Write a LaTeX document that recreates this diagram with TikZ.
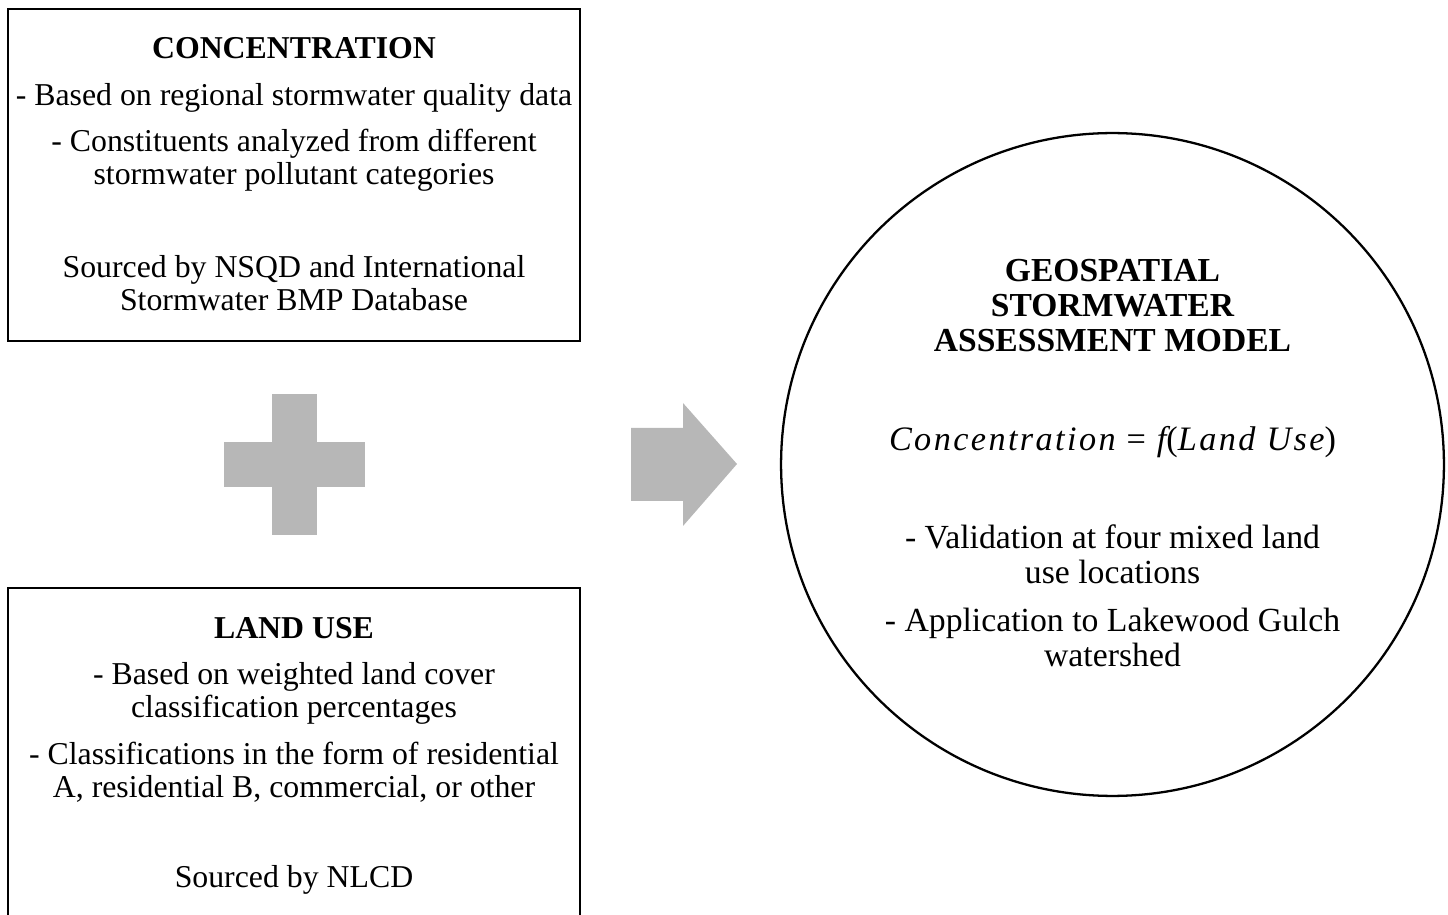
\documentclass[tikz,border=0pt]{standalone}
\usepackage{fontspec}
\setmainfont{Liberation Serif}
\usetikzlibrary{positioning}
\definecolor{gsink}{HTML}{000000}
\definecolor{gsgray}{HTML}{B7B7B7}
\tikzset{
  gsbox/.style={
    draw=gsink, line width=1.1pt, inner sep=0pt},
  gscircle/.style={
    circle, draw=gsink, line width=1.3pt, inner sep=0pt},
  gstext/.style={
    font=\fontsize{18.1}{18.8}\selectfont, text=gsink, align=center,
    inner sep=0pt},
  gshead/.style={
    font=\fontsize{18.1}{18.8}\selectfont\bfseries, text=gsink,
    align=center, inner sep=0pt},
  gsmodel/.style={
    font=\fontsize{19.2}{19.9}\selectfont, text=gsink, align=center,
    inner sep=0pt},
  gssymbol/.style={fill=gsgray, draw=none},
}

\begin{document}
\begin{tikzpicture}[x=0.02cm, y=-0.02cm]
\useasboundingbox (0, 0) rectangle (1448, 915);
\clip (0, 0) rectangle (1448, 915);

% Concentration box.
\node[gsbox, minimum width=11.44cm, minimum height=6.64cm]
  (conc) at (294, 175) {};
\node[gshead] (conctitle) at (294, 48) {CONCENTRATION};
\node[gstext] (concdata) at (294, 98)
  {- Based on regional stormwater quality data};
\node[gstext] (concparts) at (294, 160.5)
  {- Constituents analyzed from different\\
   stormwater pollutant categories};
\node[gstext] (concsource) at (294, 283.5)
  {Sourced by NSQD and International\\
   Stormwater BMP Database};

% Plus sign.
\fill[gssymbol] (272, 394) rectangle (317, 535);
\fill[gssymbol] (224, 442) rectangle (365, 487);

% Land use box.
\node[gsbox, minimum width=11.44cm, minimum height=6.84cm]
  (land) at (294, 759) {};
\node[gshead] (landtitle) at (294, 628) {LAND USE};
\node[gstext] (landweight) at (294, 693.5)
  {- Based on weighted land cover\\
   classification percentages};
\node[gstext] (landclass) at (294, 772.5)
  {- Classifications in the form of residential\\
   A, residential B, commercial, or other};
\node[gstext] (landsource) at (294, 880) {Sourced by NLCD};

% Block arrow into the model.
\fill[gssymbol] (631, 428) -- (683, 428) -- (683, 403) -- (737, 464)
  -- (683, 526) -- (683, 501) -- (631, 501) -- cycle;

% Model circle.
\node[gscircle, minimum size=13.26cm] (model) at (1112.5, 464.5) {};
\node[gshead, font=\fontsize{19.1}{19.9}\selectfont\bfseries]
  (modeltitle) at (1112.5, 306)
  {GEOSPATIAL\\ STORMWATER\\ ASSESSMENT MODEL};
\node[gsmodel, font=\fontsize{19.5}{20}\selectfont\itshape\addfontfeatures{LetterSpace=7}]
  (modeleq) at (1112.5, 442)
  {Concentration {\upshape=} f{\upshape(}Land Use{\upshape)}};
\node[gsmodel] (modelcheck) at (1112.5, 554.5)
  {- Validation at four mixed land\\ use locations};
\node[gsmodel] (modelapply) at (1112.5, 637.5)
  {- Application to Lakewood Gulch\\ watershed};

\end{tikzpicture}
\end{document}
